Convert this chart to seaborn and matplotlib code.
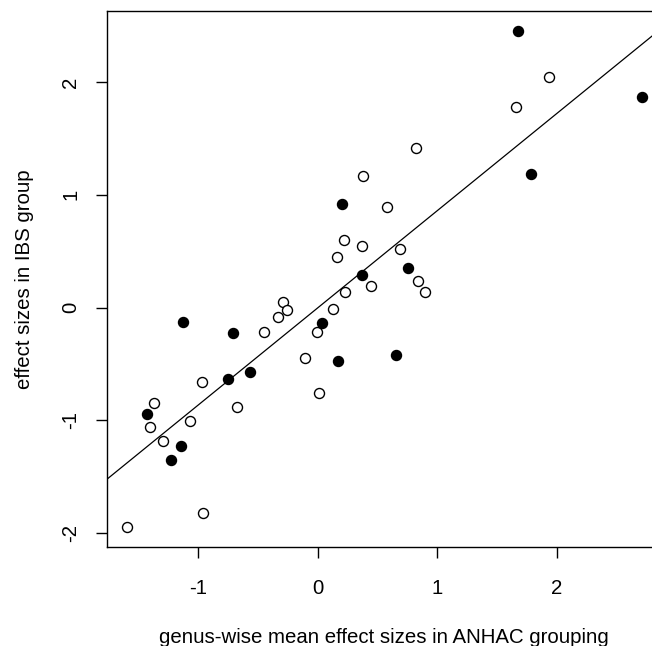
import matplotlib
matplotlib.use("Agg")
import matplotlib.pyplot as plt
import seaborn as sns
import pandas as pd

# open circles
open_x = [0.378, 0.217, 0.370, 0.161, 1.935, 1.656, 0.824, 0.579, 0.688, 0.445,
          0.838, 0.897, 0.228, -0.294, -0.260, -0.330, 0.130, -0.007, -0.448, -0.104,
          -0.972, 0.010, -0.673, -1.371, -1.402, -1.072, -1.295, -0.963, -1.597]
open_y = [1.164, 0.599, 0.543, 0.451, 2.045, 1.782, 1.412, 0.894, 0.519, 0.191,
          0.235, 0.138, 0.140, 0.052, -0.022, -0.087, -0.013, -0.220, -0.217, -0.445,
          -0.664, -0.759, -0.883, -0.850, -1.060, -1.007, -1.182, -1.823, -1.950]
# filled circles
filled_x = [0.203, 0.370, 1.675, 2.713, 1.781, 0.755, 0.654, 0.032, -1.125, -0.710,
            0.172, -0.565, -0.754, -1.427, -1.142, -1.226]
filled_y = [0.916, 0.288, 2.451, 1.871, 1.187, 0.348, -0.424, -0.140, -0.126, -0.226,
            -0.475, -0.569, -0.631, -0.948, -1.229, -1.356]
# regression line
line_slope = 0.862
line_intercept = -0.002

x_ticks = [-1, 0, 1, 2]
y_ticks = [-2, -1, 0, 1, 2]
x_label = "genus-wise mean effect sizes in ANHAC grouping"
y_label = "effect sizes in IBS group"

sns.set_theme(style="ticks")
plt.rcParams['font.family'] = ['Liberation Sans', 'DejaVu Sans']

df_open = pd.DataFrame({"x": open_x, "y": open_y})
df_filled = pd.DataFrame({"x": filled_x, "y": filled_y})

fig = plt.figure(figsize=(6.52, 6.46), dpi=100)
W, H = 652, 646
left, right, top, bottom = 106.7, 662.0, 11.0, 546.7
ax = fig.add_axes([left / W, (H - bottom) / H, (right - left) / W, (bottom - top) / H])

sns.scatterplot(data=df_open, x="x", y="y", ax=ax, marker="o", s=52,
                facecolor="white", edgecolor="black", linewidth=1.0, zorder=3)
sns.scatterplot(data=df_filled, x="x", y="y", ax=ax, marker="o", s=52,
                color="black", edgecolor="black", linewidth=1.0, zorder=3)
ax.axline((0, line_intercept), slope=line_slope, color="black", linewidth=0.9, zorder=2)

fs = 14.7
ax.set_xlim(-1.767, 2.880)
ax.set_ylim(-2.122, 2.631)
ax.set_xticks(x_ticks)
ax.set_yticks(y_ticks)
ax.set_xticklabels([str(v) for v in x_ticks])
ax.set_yticklabels([str(v) for v in y_ticks], rotation=90, va="center")
for s in ax.spines.values():
    s.set_visible(True)
    s.set_linewidth(1.0)
    s.set_color("black")
ax.tick_params(axis="both", direction="out", length=8, width=1.0, color="black",
               labelsize=fs, labelcolor="black")
ax.tick_params(axis="x", pad=15)
ax.tick_params(axis="y", pad=11)
ax.set_xlabel(x_label, fontsize=fs, labelpad=21.5, color="black")
ax.set_ylabel(y_label, fontsize=fs, labelpad=20, color="black")
ax.grid(False)
ax.set_facecolor("white")

fig.savefig("out.png", dpi=100, facecolor="white")
